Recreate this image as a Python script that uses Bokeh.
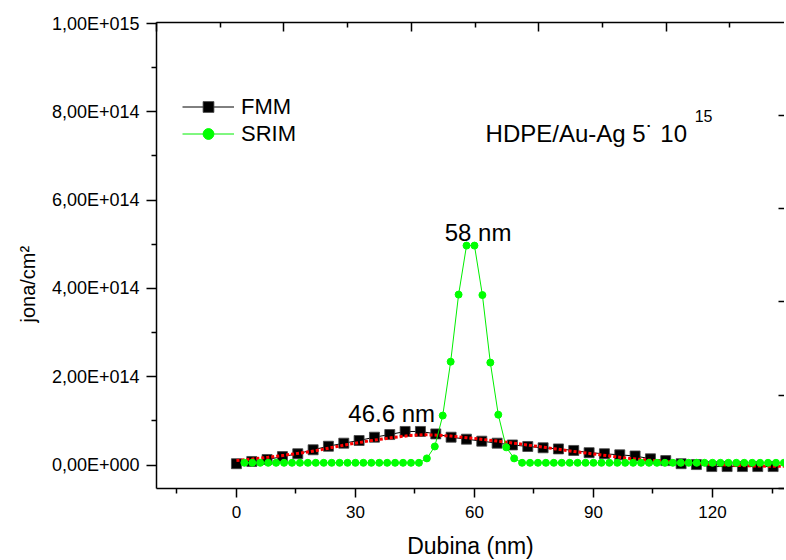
from bokeh.plotting import figure
from bokeh.models import (Range1d, LinearAxis, FixedTicker, Label, Legend,
                          LegendItem, Title)
from bokeh.embed import file_html
from bokeh.resources import INLINE

# ---------------- data ----------------
fmm_x = [0.0, 3.87, 7.73, 11.6, 15.46, 19.33, 23.19, 27.06, 30.92, 34.79,
         38.65, 42.52, 46.38, 50.25, 54.11, 57.98, 61.84, 65.71, 69.57, 73.44,
         77.3, 81.17, 85.03, 88.9, 92.76, 96.63, 100.49, 104.36, 108.22, 112.09,
         115.95, 119.82, 123.68, 127.55, 131.41, 135.28]
fmm_y = [0.3e13, 0.8e13, 1.25e13, 1.9e13, 2.55e13, 3.45e13, 4.25e13, 4.95e13,
         5.55e13, 6.3e13, 6.9e13, 7.6e13, 7.6e13, 7.05e13, 6.3e13, 5.85e13,
         5.4e13, 4.95e13, 4.55e13, 4.2e13, 3.9e13, 3.65e13, 3.3e13, 2.8e13,
         2.55e13, 2.3e13, 2.05e13, 1.4e13, 1.0e13, 0.3e13, 0.1e13, -0.35e13,
         -0.35e13, -0.35e13, -0.35e13, -0.35e13]

srim_x = [2, 4, 6, 8, 10, 12, 14, 16, 18, 20, 22, 24, 26, 28, 30, 32, 34, 36,
          38, 40, 42, 44, 46, 48, 50, 52, 54, 56, 58, 60, 62, 64, 66, 68, 70,
          72, 74, 76, 78, 80, 82, 84, 86, 88, 90, 92, 94, 96, 98, 100, 102,
          104, 106, 108, 110, 112, 114, 116, 118, 120, 122, 124, 126, 128,
          130, 132, 134, 136, 138]
srim_y = [5e12, 5e12, 5e12, 5e12, 5e12, 5e12, 5e12, 5e12, 5e12, 5e12, 5e12,
          5e12, 5e12, 5e12, 5e12, 5e12, 5e12, 5e12, 5e12, 5e12, 5e12, 5e12,
          5e12, 1.5e13, 4.2e13, 1.12e14, 2.34e14, 3.86e14, 4.97e14, 4.97e14,
          3.85e14, 2.32e14, 1.14e14, 4.0e13, 1.5e13,
          5e12, 5e12, 5e12, 5e12, 5e12, 5e12, 5e12, 5e12, 5e12, 5e12, 5e12,
          5e12, 5e12, 5e12, 5e12, 5e12, 5e12, 5e12, 5e12, 5e12, 5e12, 5e12,
          5e12, 5e12, 5e12, 5e12, 5e12, 5e12, 5e12, 5e12, 5e12, 5e12, 5e12,
          5e12]

fit_x = [0, 4, 8, 12, 16, 20, 24, 28, 32, 36, 40, 44, 47, 50, 54, 58, 62, 66,
         70, 74, 78, 82, 86, 90, 94, 98, 102, 106, 110, 114, 118, 122, 126,
         130, 134, 138]
fit_y = [1.0e13, 1.35e13, 1.75e13, 2.2e13, 2.7e13, 3.25e13, 3.95e13, 4.65e13,
         5.25e13, 5.8e13, 6.3e13, 6.7e13, 6.85e13, 6.8e13, 6.55e13, 6.2e13,
         5.8e13, 5.4e13, 4.95e13, 4.45e13, 3.95e13, 3.45e13, 2.95e13, 2.5e13,
         2.05e13, 1.6e13, 1.25e13, 9.5e12, 6.8e12, 4.3e12, 2.2e12, 0.8e12,
         -0.8e12, -2.0e12, -2.7e12, -3.0e12]

x_ticks = [0, 30, 60, 90, 120]
x_minor = [-15, 15, 45, 75, 105, 135]
x_labels = ["0", "30", "60", "90", "120"]
y_ticks = [0, 2e14, 4e14, 6e14, 8e14, 1e15]
y_minor = [1e14, 3e14, 5e14, 7e14, 9e14]
y_labels = ["0,00E+000", "2,00E+014", "4,00E+014", "6,00E+014",
            "8,00E+014", "1,00E+015"]

FONT = "Liberation Sans"

p = figure(frame_width=628, frame_height=466,
           x_range=Range1d(-20.15, 138.15), y_range=Range1d(-5.32e13, 1.0023e15),
           output_backend="svg", toolbar_location=None,
           min_border_left=156, min_border_right=0, min_border_top=22,
           min_border_bottom=72, background_fill_color="white",
           border_fill_color="white")
p.outline_line_color = None
p.xgrid.visible = False
p.ygrid.visible = False

# bottom axis
xa = p.xaxis[0]
xa.ticker = FixedTicker(ticks=x_ticks, minor_ticks=x_minor)
xa.major_label_overrides = {t: l for t, l in zip(x_ticks, x_labels)}
xa.major_tick_out = 9
xa.major_tick_in = 0
xa.minor_tick_out = 5
xa.minor_tick_in = 0
xa.axis_line_width = 1.5
xa.major_tick_line_width = 1.5
xa.minor_tick_line_width = 1.5
xa.major_label_text_font = FONT
xa.major_label_text_font_size = "17px"
xa.major_label_text_color = "black"
xa.major_label_standoff = 8
xa.axis_label = "Dubina (nm)"
xa.axis_label_text_font = FONT
xa.axis_label_text_font_size = "23px"
xa.axis_label_text_font_style = "normal"
xa.axis_label_text_color = "black"
xa.axis_label_standoff = 12

# left axis
ya = p.yaxis[0]
ya.ticker = FixedTicker(ticks=y_ticks, minor_ticks=y_minor)
ya.major_label_overrides = {t: l for t, l in zip(y_ticks, y_labels)}
ya.major_tick_out = 10
ya.major_tick_in = 0
ya.minor_tick_out = 5
ya.minor_tick_in = 0
ya.axis_line_width = 1.5
ya.major_tick_line_width = 1.5
ya.minor_tick_line_width = 1.5
ya.major_label_text_font = FONT
ya.major_label_text_font_size = "18px"
ya.major_label_text_color = "black"
ya.major_label_standoff = 7

# y axis title, placed lower than centre as in the original
p.add_layout(Title(text="jona/cm\u00b2", align="left", offset=166,
                   text_font=FONT, text_font_size="20px",
                   text_font_style="normal", text_color="black",
                   standoff=20), "left")

# top axis (separate layer scale, ticks only)
top_ticks = [0, 2, 4, 6, 8]
top_minor = [1, 3, 5, 7, 9]
p.extra_x_ranges = {"top": Range1d(0, 628 / 63.7)}
ta = LinearAxis(x_range_name="top",
                ticker=FixedTicker(ticks=top_ticks, minor_ticks=top_minor),
                major_tick_in=9, major_tick_out=0, minor_tick_in=5,
                minor_tick_out=0, axis_line_width=1.5,
                major_tick_line_width=1.5, minor_tick_line_width=1.5,
                major_label_overrides={t: "" for t in top_ticks},
                major_label_text_font_size="1px", major_label_standoff=0)
p.add_layout(ta, "above")

# right axis (ticks only)
right_ticks = [0, 1, 2, 3, 4, 5]
p.extra_y_ranges = {"right": Range1d(0, 466 / 93.3)}
ra = LinearAxis(y_range_name="right",
                ticker=FixedTicker(ticks=right_ticks, minor_ticks=[]),
                major_tick_in=6, major_tick_out=0, axis_line_color=None,
                major_tick_line_width=1.5,
                major_label_overrides={t: "" for t in right_ticks},
                major_label_text_font_size="1px", major_label_standoff=0)
p.add_layout(ra, "right")

# data
fmm_line = p.line(fmm_x, fmm_y, line_color="black", line_width=1)
fmm_sq = p.scatter(fmm_x, fmm_y, marker="square", size=10,
                   fill_color="black", line_color="#444444", line_width=0.8)
p.line(fit_x, fit_y, line_color="#ff0000", line_width=3, line_dash="3 2")
srim_line = p.line(srim_x, srim_y, line_color="#00ee00", line_width=1)
srim_pts = p.scatter(srim_x, srim_y, marker="circle", size=7,
                     fill_color="#00ff00", line_color="#00ff00")

legend = Legend(items=[LegendItem(label="FMM", renderers=[fmm_line, fmm_sq]),
                       LegendItem(label="SRIM", renderers=[srim_line, srim_pts])],
                location=(26, 341), padding=0, margin=0, spacing=0,
                glyph_width=52, glyph_height=27, label_height=27,
                label_standoff=7, label_text_font=FONT,
                label_text_font_size="22px", label_text_color="black",
                border_line_color=None, background_fill_alpha=0)
p.add_layout(legend)

p.add_layout(Label(x=52.5, y=5.273e14, text="58 nm", text_font=FONT,
                   text_font_size="24px", text_color="black",
                   text_baseline="alphabetic"))
p.add_layout(Label(x=28.2, y=1.166e14, text="46.6 nm", text_font=FONT,
                   text_font_size="24px", text_color="black",
                   text_baseline="alphabetic"))
p.add_layout(Label(x=62.8, y=7.508e14, text="HDPE/Au-Ag 5\u02d9 10",
                   text_font=FONT, text_font_size="24px", text_color="black",
                   text_baseline="alphabetic"))
p.add_layout(Label(x=115.5, y=7.916e14, text="15", text_font=FONT,
                   text_font_size="16px", text_color="black",
                   text_baseline="alphabetic"))

open("out.html", "w").write(file_html(p, INLINE))
